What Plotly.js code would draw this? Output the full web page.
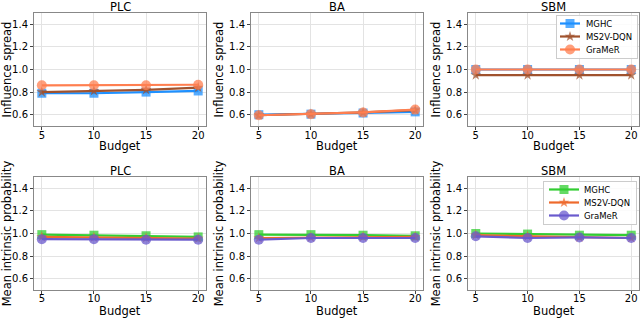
<!DOCTYPE html>
<html>
<head>
<meta charset="utf-8">
<script src="https://cdn.plot.ly/plotly-3.0.1.min.js"></script>
<style>html,body{margin:0;padding:0;background:#fff;}#chart{width:640px;height:318px;}</style>
</head>
<body>
<div id="chart"></div>
<script>
// ---- data ----
const budgets = [5, 10, 15, 20];
const graphs = ['PLC', 'BA', 'SBM'];
const methods = ['MGHC', 'MS2V-DQN', 'GraMeR'];
const xTickLabels = ['5', '10', '15', '20'];
const yTickVals = [0.6, 0.8, 1.0, 1.2, 1.4];
const yTickLabels = ['0.6', '0.8', '1.0', '1.2', '1.4'];
const xTitle = 'Budget';
const yTitles = ['Influence spread', 'Mean intrinsic probability'];

// Influence spread (top row)
const spreadPLC_MGHC   = [0.79, 0.79, 0.80, 0.81];
const spreadPLC_MS2V   = [0.80, 0.81, 0.82, 0.84];
const spreadPLC_GraMeR = [0.86, 0.86, 0.86, 0.865];
const spreadBA_MGHC    = [0.60, 0.605, 0.615, 0.625];
const spreadBA_MS2V    = [0.595, 0.605, 0.62, 0.64];
const spreadBA_GraMeR  = [0.595, 0.605, 0.62, 0.645];
const spreadSBM_MGHC   = [1.0, 1.0, 1.0, 1.0];
const spreadSBM_MS2V   = [0.95, 0.95, 0.95, 0.95];
const spreadSBM_GraMeR = [1.0, 1.0, 1.0, 1.0];

// Mean intrinsic probability (bottom row)
const probPLC_MGHC   = [0.99, 0.985, 0.98, 0.97];
const probPLC_MS2V   = [0.97, 0.965, 0.96, 0.955];
const probPLC_GraMeR = [0.95, 0.95, 0.945, 0.945];
const probBA_MGHC    = [0.99, 0.99, 0.985, 0.98];
const probBA_MS2V    = [0.96, 0.965, 0.97, 0.97];
const probBA_GraMeR  = [0.945, 0.96, 0.96, 0.96];
const probSBM_MGHC   = [1.0, 0.995, 0.985, 0.985];
const probSBM_MS2V   = [0.985, 0.975, 0.965, 0.96];
const probSBM_GraMeR = [0.975, 0.96, 0.965, 0.96];

const topSeries = [
  [spreadPLC_MGHC, spreadPLC_MS2V, spreadPLC_GraMeR],
  [spreadBA_MGHC, spreadBA_MS2V, spreadBA_GraMeR],
  [spreadSBM_MGHC, spreadSBM_MS2V, spreadSBM_GraMeR]
];
const botSeries = [
  [probPLC_MGHC, probPLC_MS2V, probPLC_GraMeR],
  [probBA_MGHC, probBA_MS2V, probBA_GraMeR],
  [probSBM_MGHC, probSBM_MS2V, probSBM_GraMeR]
];

// ---- styles ----
const topColors = ['#1e90ff', '#a0522d', '#ff7f50'];
const botColors = ['#32cd32', '#ee6a2c', '#6a5acd'];
const symbols = ['square', 'star', 'circle'];
const msizes = [9, 8, 10];
const FONT = 'DejaVu Sans, sans-serif';

const W = 640, H = 318;
const xPix = [[34, 206], [251, 423], [468, 639]];
const yPix = [[13, 126], [177, 290]];
const xDom = xPix.map(d => [d[0] / W, d[1] / W]);
const yDom = yPix.map(d => [1 - d[1] / H, 1 - d[0] / H]);
const titleCenterY = [7, 171];
const xTitleCenterY = [146, 311];
const tickStandoff = [-3, -4];
const legendRight = 637;
const legendTops = [15, 181];
const legendWidth = 81;

const traces = [];
const legendBase = {
  xanchor: 'right', yanchor: 'top',
  bgcolor: 'rgba(255,255,255,0.85)', bordercolor: '#cccccc', borderwidth: 1,
  font: {family: FONT, size: 8.5}, tracegroupgap: 0
};
const layout = {
  width: W, height: H,
  margin: {l: 0, r: 0, t: 0, b: 0},
  paper_bgcolor: '#fff', plot_bgcolor: '#fff',
  font: {family: FONT, size: 10, color: '#000'},
  showlegend: true,
  annotations: [],
  legend: Object.assign({}, legendBase, {x: legendRight / W, y: 1 - legendTops[0] / H}),
  legend2: Object.assign({}, legendBase, {x: legendRight / W, y: 1 - legendTops[1] / H})
};

for (let r = 0; r < 2; r++) {
  for (let c = 0; c < 3; c++) {
    const idx = r * 3 + c + 1;
    const xa = 'xaxis' + (idx === 1 ? '' : idx);
    const ya = 'yaxis' + (idx === 1 ? '' : idx);
    const xref = 'x' + (idx === 1 ? '' : idx);
    const yref = 'y' + (idx === 1 ? '' : idx);
    layout[xa] = {
      domain: xDom[c], anchor: yref, range: [4.25, 20.75],
      tickvals: budgets, ticktext: xTickLabels,
      showgrid: true, gridcolor: '#e3e3e3', gridwidth: 1,
      zeroline: false, showline: true, mirror: true, linecolor: '#888', linewidth: 1,
      ticks: 'outside', ticklen: 3, tickcolor: '#444',
      ticklabelstandoff: tickStandoff[r],
      tickfont: {family: FONT, size: 10},
      fixedrange: true
    };
    layout[ya] = {
      domain: yDom[r], anchor: xref, range: [0.5, 1.5],
      tickvals: yTickVals, ticktext: yTickLabels,
      showgrid: true, gridcolor: '#e3e3e3', gridwidth: 1,
      zeroline: false, showline: true, mirror: true, linecolor: '#888', linewidth: 1,
      ticks: 'outside', ticklen: 3, tickcolor: '#444',
      tickfont: {family: FONT, size: 10},
      title: {text: yTitles[r], font: {family: FONT, size: 11.5}, standoff: 3},
      fixedrange: true
    };
    layout.annotations.push({
      text: graphs[c], xref: 'paper', yref: 'paper',
      x: (xDom[c][0] + xDom[c][1]) / 2, y: 1 - titleCenterY[r] / H,
      xanchor: 'center', yanchor: 'middle', showarrow: false, borderpad: 0,
      font: {family: FONT, size: 11.5, color: '#000'}
    });
    layout.annotations.push({
      text: xTitle, xref: 'paper', yref: 'paper',
      x: (xDom[c][0] + xDom[c][1]) / 2, y: 1 - xTitleCenterY[r] / H,
      xanchor: 'center', yanchor: 'middle', showarrow: false, borderpad: 0,
      font: {family: FONT, size: 11.5, color: '#000'}
    });
    const series = r === 0 ? topSeries[c] : botSeries[c];
    const colors = r === 0 ? topColors : botColors;
    for (let m = 0; m < 3; m++) {
      traces.push({
        type: 'scatter', mode: 'lines+markers',
        x: budgets, y: series[m], name: methods[m],
        xaxis: xref, yaxis: yref,
        legend: r === 0 ? 'legend' : 'legend2',
        showlegend: c === 2,
        line: {color: colors[m], width: 2.2},
        marker: {symbol: symbols[m], size: msizes[m], color: colors[m], opacity: 0.75}
      });
    }
  }
}

// make the legend rows as compact as in the reference (absolute, idempotent)
function parseT(s) {
  const m = /translate\(\s*([-\d.e]+)[ ,]+([-\d.e]+)\s*\)/.exec(s || '');
  return m ? [+m[1], +m[2]] : null;
}
function compactLegends() {
  const STEP = 13, FIRST = 8.5, TEXTX = 29;
  ['legend', 'legend2'].forEach((cls, li) => {
    const leg = document.querySelector('g.' + cls);
    if (!leg) return;
    try {
      const items = Array.from(leg.querySelectorAll('g.traces'));
      const bg = leg.querySelector('rect.bg');
      if (items.length < 2 || !bg) return;
      const horizontal = (li === 0);   // second legend: vertical compaction only
      items.forEach((it, i) => {
        const t = parseT(it.getAttribute('transform')) || [1, 0];
        it.setAttribute('transform', 'translate(' + t[0] + ',' + (FIRST + i * STEP) + ')');
        if (horizontal) {
          const txt = it.querySelector('text.legendtext');
          if (txt) {
            txt.setAttribute('x', TEXTX);
            txt.querySelectorAll('tspan.line').forEach(ts => ts.setAttribute('x', TEXTX));
          }
          it.querySelectorAll('path.js-line').forEach(p => p.setAttribute('d', 'M3,0h20'));
          it.querySelectorAll('path.scatterpts').forEach(p => p.setAttribute('transform', 'translate(13,0)'));
        }
      });
      bg.setAttribute('height', FIRST + (items.length - 1) * STEP + 8.5);
      if (horizontal) {
        bg.setAttribute('width', legendWidth);
        leg.setAttribute('transform', 'translate(' + (legendRight - legendWidth) + ',' + legendTops[li] + ')');
      }
    } catch (e) { /* keep Plotly's legend as drawn */ }
  });
}

const gd = document.getElementById('chart');
Plotly.newPlot(gd, traces, layout, {displayModeBar: false, staticPlot: true}).then(() => {
  compactLegends();
  if (gd.on) gd.on('plotly_afterplot', () => setTimeout(compactLegends, 0));
  let n = 0;
  const iv = setInterval(() => { compactLegends(); if (++n > 80) clearInterval(iv); }, 25);
});
</script>
</body>
</html>
